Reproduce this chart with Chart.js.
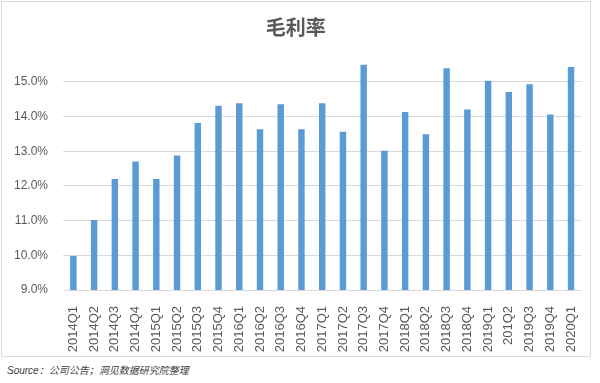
<!DOCTYPE html>
<html>
<head>
<meta charset="utf-8">
<script src="https://cdn.jsdelivr.net/npm/chart.js@4"></script>
<style>
  html, body { margin: 0; padding: 0; background: #fff; }
  #wrap { position: relative; width: 600px; height: 383px; }
  #c { position: absolute; left: 0; top: 0; }
  #src { position: absolute; left: 7px; top: 362px; font: italic 10px "Liberation Sans", "Noto Sans CJK SC", sans-serif; color: #404040; white-space: nowrap; }
</style>
</head>
<body>
<div id="wrap">
  <canvas id="c" width="600" height="358"></canvas>
  <div id="src">Source：公司公告；洞见数据研究院整理</div>
</div>
<script>
const chartTitle = "毛利率";
const categories = ["2014Q1","2014Q2","2014Q3","2014Q4","2015Q1","2015Q2","2015Q3","2015Q4",
  "2016Q1","2016Q2","2016Q3","2016Q4","2017Q1","2017Q2","2017Q3","2017Q4",
  "2018Q1","2018Q2","2018Q3","2018Q4","2019Q1","201Q2","2019Q3","2019Q4","2020Q1"];
const grossMargin = [9.98, 11.02, 12.2, 12.7, 12.2, 12.88, 13.81, 14.31,
  14.38, 13.63, 14.35, 13.63, 14.38, 13.56, 15.49, 13.01,
  14.13, 13.49, 15.39, 14.2, 15.03, 14.71, 14.93, 14.06, 15.43];
const yTicks = [9, 10, 11, 12, 13, 14, 15];

const framePlugin = {
  id: 'frame',
  beforeDraw(chart) {
    const ctx = chart.ctx;
    ctx.save();
    ctx.fillStyle = '#ffffff';
    ctx.fillRect(0, 0, chart.width, chart.height);
    ctx.strokeStyle = '#d9d9d9';
    ctx.lineWidth = 1;
    ctx.strokeRect(1.5, 1.5, 589, 355);
    ctx.restore();
  }
};

new Chart(document.getElementById('c'), {
  type: 'bar',
  data: {
    labels: categories,
    datasets: [{
      data: grossMargin,
      backgroundColor: '#5b9bd5',
      borderWidth: 0,
      barPercentage: 0.31,
      categoryPercentage: 1
    }]
  },
  plugins: [framePlugin],
  options: {
    responsive: false,
    animation: false,
    layout: { padding: { left: 10, right: 18.6, top: 0, bottom: 0 } },
    plugins: {
      legend: { display: false },
      tooltip: { enabled: false },
      title: {
        display: true,
        text: chartTitle,
        color: '#595959',
        font: { family: '"Noto Sans CJK SC", sans-serif', size: 20, weight: 'bold' },
        padding: { top: 15, bottom: 22 }
      }
    },
    scales: {
      x: {
        afterFit(scale) { scale.height = 68; },
        grid: { display: false },
        border: { display: false },
        ticks: {
          color: '#595959',
          font: { family: '"Liberation Sans", sans-serif', size: 13 },
          minRotation: 90,
          maxRotation: 90,
          autoSkip: false,
          padding: 8
        }
      },
      y: {
        min: 9,
        max: 15.6,
        afterBuildTicks(axis) {
          axis.ticks = yTicks.map(v => ({ value: v }));
        },
        afterFit(scale) { scale.width = 53; },
        grid: { color: '#d9d9d9', lineWidth: 1, drawTicks: false },
        border: { display: false },
        ticks: {
          color: '#595959',
          font: { family: '"Liberation Sans", sans-serif', size: 12 },
          padding: 15,
          callback: v => v.toFixed(1) + '%'
        }
      }
    }
  }
});
</script>
</body>
</html>
